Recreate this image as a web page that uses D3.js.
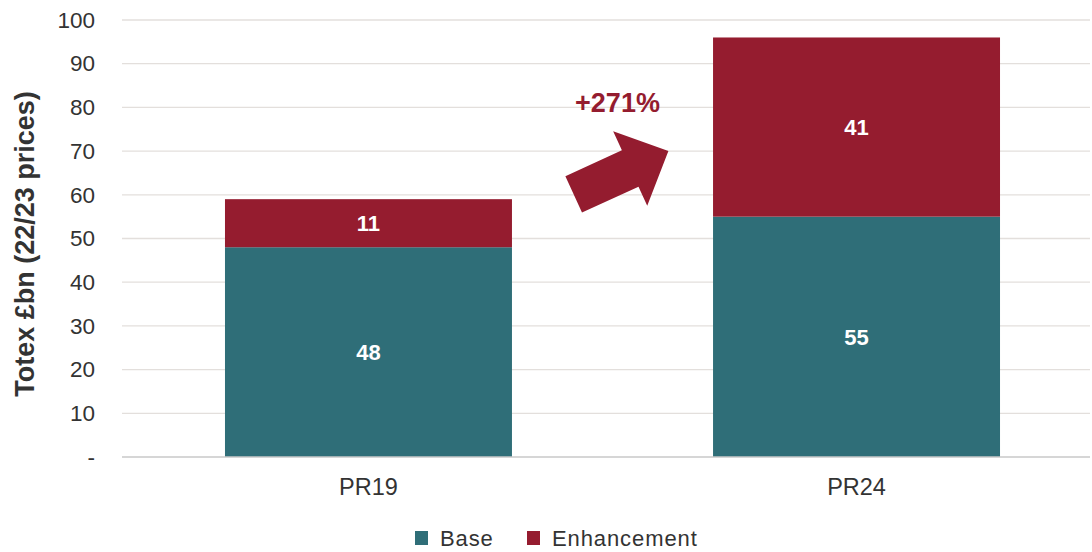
<!DOCTYPE html>
<html>
<head>
<meta charset="utf-8">
<script src="https://cdn.jsdelivr.net/npm/d3@7"></script>
<style>
  html, body { margin: 0; padding: 0; background: #fff; }
  svg { display: block; font-family: "Liberation Sans", Arial, sans-serif; }
</style>
</head>
<body>
<svg id="chart" width="1092" height="552"></svg>
<script>
// Totex by price review, split into base and enhancement spend (£bn, 22/23 prices)
const categories = ["PR19", "PR24"];
const seriesNames = ["Base", "Enhancement"];
const baseValues = [48, 55];
const enhancementValues = [11, 41];
const tickValues = [0, 10, 20, 30, 40, 50, 60, 70, 80, 90, 100];
const tickLabels = ["-", "10", "20", "30", "40", "50", "60", "70", "80", "90", "100"];
const growthLabel = "+271%";

const colors = { Base: "#2f6e78", Enhancement: "#951c2f" };

const svg = d3.select("#chart");
const plot = { left: 122, right: 1090, top: 20, bottom: 457 };

const x = d3.scaleBand()
  .domain(categories)
  .range([plot.left, 1103])
  .paddingInner(0.412)
  .paddingOuter(0.211);

const y = d3.scaleLinear()
  .domain([0, 100])
  .range([plot.bottom, plot.top]);

// Gridlines
svg.append("g")
  .selectAll("line")
  .data(tickValues.filter(v => v > 0))
  .join("line")
  .attr("x1", plot.left).attr("x2", plot.right)
  .attr("y1", d => y(d)).attr("y2", d => y(d))
  .attr("stroke", "#e3dfdc").attr("stroke-width", 1.3);

// Y axis labels
const yAxis = d3.axisLeft(y)
  .tickValues(tickValues)
  .tickFormat((d, i) => tickLabels[i])
  .tickSize(0)
  .tickPadding(0);
const gy = svg.append("g")
  .attr("transform", `translate(95,0)`)
  .call(yAxis);
gy.select(".domain").remove();
gy.selectAll("text")
  .attr("font-family", "Liberation Sans, Arial, sans-serif")
  .attr("font-size", 22.5)
  .attr("fill", "#333");

// Stacked data
const rows = categories.map((c, i) => ({ cat: c, Base: baseValues[i], Enhancement: enhancementValues[i] }));
const stack = d3.stack().keys(seriesNames)(rows);

const layers = svg.append("g")
  .selectAll("g")
  .data(stack)
  .join("g")
  .attr("fill", d => colors[d.key]);

layers.selectAll("rect")
  .data(d => d)
  .join("rect")
  .attr("x", d => x(d.data.cat))
  .attr("width", x.bandwidth())
  .attr("y", d => y(d[1]))
  .attr("height", d => y(d[0]) - y(d[1]));

// Value labels inside segments
layers.selectAll("text")
  .data(d => d.map(s => ({ s, key: d.key })))
  .join("text")
  .attr("x", d => x(d.s.data.cat) + x.bandwidth() / 2)
  .attr("y", d => y((d.s[0] + d.s[1]) / 2))
  .attr("dy", "0.36em")
  .attr("text-anchor", "middle")
  .attr("font-size", 22)
  .attr("font-weight", "bold")
  .attr("fill", "#fff")
  .text(d => d.s.data[d.key]);

// Baseline
svg.append("line")
  .attr("x1", plot.left).attr("x2", plot.right)
  .attr("y1", y(0)).attr("y2", y(0))
  .attr("stroke", "#c8c8c8").attr("stroke-width", 1.5);

// X axis labels
svg.append("g")
  .selectAll("text")
  .data(categories)
  .join("text")
  .attr("x", d => x(d) + x.bandwidth() / 2)
  .attr("y", 495)
  .attr("text-anchor", "middle")
  .attr("font-size", 23.5)
  .attr("fill", "#333")
  .text(d => d);

// Y axis title
svg.append("text")
  .attr("transform", `translate(34,244) rotate(-90)`)
  .attr("text-anchor", "middle")
  .attr("font-size", 27)
  .attr("font-weight", "bold")
  .attr("fill", "#333")
  .text("Totex £bn (22/23 prices)");

// Growth arrow between the bars, placed in the gap between PR19 and PR24
const gapL = x("PR19") + x.bandwidth();
const gapR = x("PR24");
const tail = [gapL + (gapR - gapL) * 0.307, y(60.1)];
const tip = [gapL + (gapR - gapL) * 0.778, y(70.0)];
const dx = tip[0] - tail[0], dy = tip[1] - tail[1];
const len = Math.hypot(dx, dy);
const ux = dx / len, uy = dy / len;   // along the arrow
const nx = -uy, ny = ux;              // perpendicular
const shaftHalf = 20, headHalf = 41, headLen = 42;
const hb = [tip[0] - ux * headLen, tip[1] - uy * headLen];
const pt = (p, k) => [p[0] + nx * k, p[1] + ny * k];
const arrowPts = [
  pt(tail, -shaftHalf), pt(hb, -shaftHalf), pt(hb, -headHalf), tip,
  pt(hb, headHalf), pt(hb, shaftHalf), pt(tail, shaftHalf)
];
svg.append("path")
  .attr("d", d3.line()(arrowPts) + "Z")
  .attr("fill", "#941c2f");

svg.append("text")
  .attr("x", 617.5)
  .attr("y", 111.5)
  .attr("text-anchor", "middle")
  .attr("font-size", 27)
  .attr("font-weight", "bold")
  .attr("fill", "#941c2f")
  .text(growthLabel);

// Legend
const legend = svg.append("g").attr("transform", "translate(0,538)");
const legendX = [415, 527];
const li = legend.selectAll("g")
  .data(seriesNames)
  .join("g")
  .attr("transform", (d, i) => `translate(${legendX[i]},0)`);
li.append("rect")
  .attr("x", 0).attr("y", -7)
  .attr("width", 13).attr("height", 14)
  .attr("fill", d => colors[d]);
li.append("text")
  .attr("x", 25).attr("y", 0)
  .attr("dy", "0.36em")
  .attr("font-size", 22)
  .attr("fill", "#333")
  .attr("letter-spacing", 0.9)
  .text(d => d);
</script>
</body>
</html>
